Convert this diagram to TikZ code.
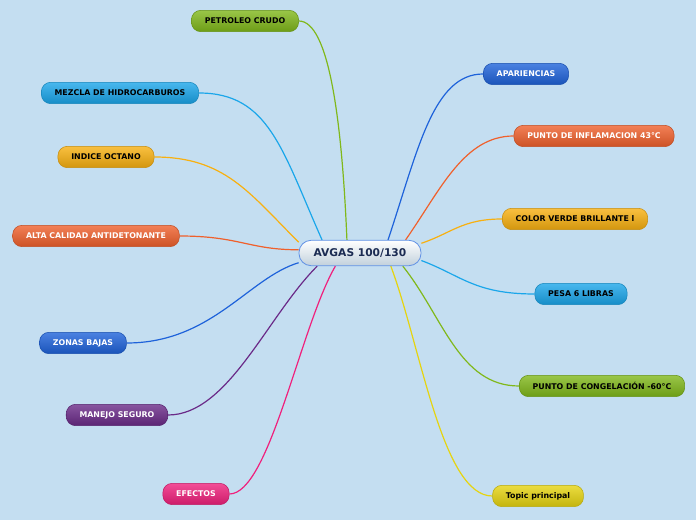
\documentclass[tikz,border=0pt]{standalone}
\usepackage{fontspec}
\setmainfont{DejaVu Sans}
\usetikzlibrary{calc}

\definecolor{bgsky}{HTML}{C4DEF1}
\definecolor{cgreen}{HTML}{80B81A}
\definecolor{clblue}{HTML}{1AA6EA}
\definecolor{cdblue}{HTML}{1E62DA}
\definecolor{cyorange}{HTML}{F8B010}
\definecolor{corange}{HTML}{F0602C}
\definecolor{cpurple}{HTML}{6A2A88}
\definecolor{cpink}{HTML}{F0207C}
\definecolor{cyellow}{HTML}{E6D410}
\definecolor{cnavy}{HTML}{1B2B52}

\pgfdeclarelayer{bg}
\pgfdeclarelayer{edges}
\pgfsetlayers{bg,edges,main}

\tikzset{
  topic/.style={rounded corners=7pt, minimum height=16pt, inner xsep=10pt, inner ysep=0pt,
    font=\fontsize{5.9}{7}\selectfont\bfseries, draw=#1!80!black, line width=0.4pt,
    top color=#1!80!white, bottom color=#1!85!black},
  dark/.style={text=black},
  light/.style={text=white},
  branch/.style={line width=0.9pt, draw=#1},
}

\begin{document}
\begin{tikzpicture}[x=0.75pt, y=-0.75pt]
  % background
  \begin{pgfonlayer}{bg}
    \fill[bgsky] (0,0) rectangle (696,520);
  \end{pgfonlayer}

  % central topic
  \node[rounded corners=9pt, minimum height=19pt, inner xsep=11pt, draw=cdblue!70!white,
    line width=0.6pt, top color=white, bottom color=black!15!bgsky!70!white,
    text=cnavy, font=\fontsize{8}{10}\selectfont\bfseries] (avgas) at (360,253) {AVGAS 100/130};

  % left branches
  \node[topic=cgreen, dark] (petroleo) at (245,21) {PETROLEO CRUDO};
  \node[topic=clblue, dark] (mezcla) at (120,93) {MEZCLA DE HIDROCARBUROS};
  \node[topic=cyorange, dark] (octano) at (106,157) {INDICE OCTANO};
  \node[topic=corange, light] (calidad) at (96,236) {ALTA CALIDAD ANTIDETONANTE};
  \node[topic=cdblue, light] (zonas) at (83,343) {ZONAS BAJAS};
  \node[topic=cpurple, light] (manejo) at (117,415) {MANEJO SEGURO};
  \node[topic=cpink, light] (efectos) at (196,494) {EFECTOS};

  % right branches
  \node[topic=cdblue, light] (apariencias) at (526,74) {APARIENCIAS};
  \node[topic=corange, light] (inflamacion) at (594,136) {PUNTO DE INFLAMACION 43°C};
  \node[topic=cyorange, dark] (color) at (575,219) {COLOR VERDE BRILLANTE l};
  \node[topic=clblue, dark] (pesa) at (581,294) {PESA 6 LIBRAS};
  \node[topic=cgreen, dark] (congelacion) at (602,386) {PUNTO DE CONGELACIÓN -60°C};
  \node[topic=cyellow, dark] (principal) at (538,496) {Topic principal};

  % connectors
  \begin{pgfonlayer}{edges}
    \draw[branch=cgreen] (petroleo.east) .. controls +(30,0) and +(-5,-120) .. (avgas.135);
    \draw[branch=clblue] (mezcla.east) .. controls +(70,0) and +(-40,-90) .. (avgas.161);
    \draw[branch=cyorange] (octano.east) .. controls +(70,0) and +(-50,-50) .. (avgas.170);
    \draw[branch=corange] (calidad.east) .. controls +(60,0) and +(-50,0) .. (avgas.177);
    \draw[branch=cdblue] (zonas.east) .. controls +(85,0) and +(-50,15) .. (avgas.189);
    \draw[branch=cpurple] (manejo.east) .. controls +(60,0) and +(-50,50) .. (avgas.197);
    \draw[branch=cpink] (efectos.east) .. controls +(40,0) and +(-35,60) .. (avgas.208);
    \draw[branch=cdblue] (apariencias.west) .. controls +(-50,0) and +(30,-90) .. (avgas.25);
    \draw[branch=corange] (inflamacion.west) .. controls +(-50,0) and +(35,-50) .. (avgas.16);
    \draw[branch=cyorange] (color.west) .. controls +(-40,0) and +(30,-10) .. (avgas.9);
    \draw[branch=clblue] (pesa.west) .. controls +(-60,0) and +(40,15) .. (avgas.353);
    \draw[branch=cgreen] (congelacion.west) .. controls +(-60,0) and +(40,50) .. (avgas.343);
    \draw[branch=cyellow] (principal.west) .. controls +(-50,0) and +(30,80) .. (avgas.337);
  \end{pgfonlayer}
\end{tikzpicture}
\end{document}
